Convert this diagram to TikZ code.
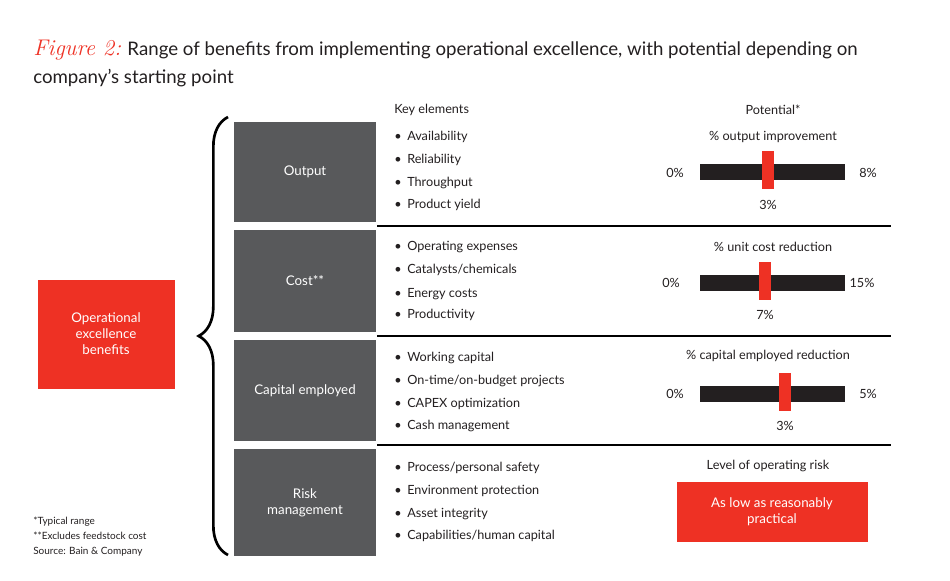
\documentclass[tikz,border=0pt]{standalone}
\usepackage{fontspec}
\setmainfont{Lato}
\newfontfamily\figfont{Latin Modern Roman}
\usetikzlibrary{decorations.pathreplacing}
\definecolor{bred}{HTML}{EE3124}
\definecolor{bgray}{HTML}{58595B}
\definecolor{btxt}{HTML}{231F20}
\begin{document}
\begin{tikzpicture}[x=0.75pt,y=-0.75pt,
  txt/.style={anchor=west,text=btxt,font=\fontsize{9.5}{11}\selectfont,inner sep=0},
  ctxt/.style={text=btxt,font=\fontsize{9.5}{11}\selectfont,inner sep=0},
  sep/.style={line width=2.2pt,black},
  blk/.style={fill=btxt},
  redmark/.style={fill=bred}]
\useasboundingbox (0,0) rectangle (950,581);
\node[anchor=west,inner sep=0,font=\fontsize{14}{21}\selectfont,text=btxt,align=left] (title) at (33,63)
 {{\figfont\itshape\fontsize{17}{21}\selectfont\color{bred}Figure 2:} Range of benefits from implementing operational excellence, with potential depending on\\company's starting point};
\fill[bred] (38,280) rectangle (175,389);
\node[text=white,align=center,font=\fontsize{10}{12}\selectfont] (oeb) at (106,334) {Operational\\excellence\\benefits};
\draw[line width=2pt,decorate,decoration={brace,amplitude=22pt}] (228,555) -- (228,117);
\foreach \n/\ya/\yb/\t in {out/122/222/Output,cost/230/332/Cost**,cap/340/441/Capital employed,risk/449/556/Risk\\management}{
  \fill[bgray] (234,\ya) rectangle (376,\yb);
  \node[text=white,align=center,font=\fontsize{10}{12}\selectfont] (\n) at (305,{(\ya+\yb)/2}) {\t};
}
\foreach \y in {226,336,445}{\draw[sep] (377,\y) -- (891,\y);}
\node[txt] (ke) at (394,110) {Key elements};
\node[ctxt] (pot) at (773,110) {Potential*};
\foreach \y/\t in {137/{Availability},160/{Reliability},183/{Throughput},205/{Product yield},
 247/{Operating expenses},270/{Catalysts/chemicals},294/{Energy costs},315/{Productivity},
 358/{Working capital},381/{On-time/on-budget projects},404/{CAPEX optimization},426/{Cash management},
 468/{Process/personal safety},491/{Environment protection},514/{Asset integrity},536/{Capabilities/human capital}}{
 \node[txt] at (394,\y) {\textbullet};
 \node[txt] at (407,\y) {\t};
}
% row 1
\node[ctxt] (l1) at (773,137) {\% output improvement};
\fill[blk] (700,164) rectangle (845,180);
\fill[redmark] (762,151) rectangle (774,189);
\node[ctxt] at (675,173) {0\%};
\node[ctxt] at (868,173) {8\%};
\node[ctxt] at (768,205) {3\%};
% row 2
\node[ctxt] (l2) at (773,247) {\% unit cost reduction};
\fill[blk] (700,275) rectangle (845,291);
\fill[redmark] (759,262) rectangle (771,300);
\node[ctxt] at (671,283) {0\%};
\node[ctxt] at (862,283) {15\%};
\node[ctxt] at (765,315) {7\%};
% row 3
\node[ctxt] (l3) at (768,356) {\% capital employed reduction};
\fill[blk] (700,386) rectangle (845,402);
\fill[redmark] (779,373) rectangle (791,411);
\node[ctxt] at (675,394) {0\%};
\node[ctxt] at (868,394) {5\%};
\node[ctxt] at (785,426) {3\%};
% row 4
\node[ctxt] (l4) at (768,466) {Level of operating risk};
\fill[bred] (677,482) rectangle (868,542);
\node[text=white,align=center,font=\fontsize{10}{12}\selectfont] (alarp) at (772,512) {As low as reasonably\\practical};
% footnotes
\node[anchor=west,inner sep=0,text=btxt,font=\fontsize{7.5}{11.2}\selectfont,align=left] (fn) at (33,537)
 {*Typical range\\**Excludes feedstock cost\\Source: Bain \& Company};
\end{tikzpicture}
\end{document}
